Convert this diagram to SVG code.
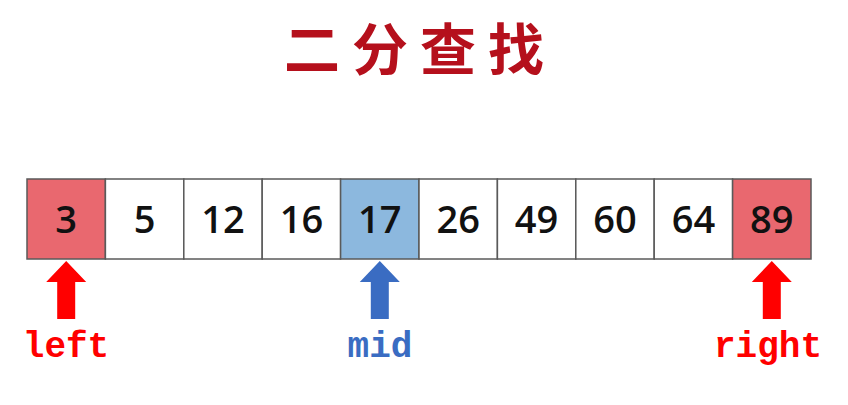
<svg xmlns="http://www.w3.org/2000/svg" width="848" height="405" viewBox="0 0 848 405">
<style>
.cell{stroke:#5a5a5a;stroke-width:1.5;fill:#ffffff}
.red{fill:#E9686F}
.blue{fill:#8CB8DE}
.num{font-family:"Open Sans","Liberation Sans",sans-serif;font-size:38px;font-weight:600;text-anchor:middle;fill:#111}
.lbl{font-family:"Liberation Mono","DejaVu Sans Mono",monospace;font-weight:bold;font-size:36px;text-anchor:middle}
</style>
<defs>
<path id="arr" d="M0,0 L20,21 L9,21 L9,58 L-9,58 L-9,21 L-20,21 Z"/>
</defs>
<rect width="848" height="405" fill="#ffffff"/>
<text x="420" y="70" font-family="'Noto Sans CJK SC',sans-serif" font-weight="bold" font-size="56" letter-spacing="12" text-anchor="middle" fill="#B5101C">二分查找</text>
<g id="array">
<g id="c0"><rect class="cell red" x="27" y="179" width="78.4" height="80"/><text class="num" x="66.2" y="233">3</text></g>
<g id="c1"><rect class="cell" x="105.4" y="179" width="78.4" height="80"/><text class="num" x="144.6" y="233">5</text></g>
<g id="c2"><rect class="cell" x="183.8" y="179" width="78.4" height="80"/><text class="num" x="223" y="233">12</text></g>
<g id="c3"><rect class="cell" x="262.2" y="179" width="78.4" height="80"/><text class="num" x="301.4" y="233">16</text></g>
<g id="c4"><rect class="cell blue" x="340.6" y="179" width="78.4" height="80"/><text class="num" x="379.8" y="233">17</text></g>
<g id="c5"><rect class="cell" x="419" y="179" width="78.4" height="80"/><text class="num" x="458.2" y="233">26</text></g>
<g id="c6"><rect class="cell" x="497.4" y="179" width="78.4" height="80"/><text class="num" x="536.6" y="233">49</text></g>
<g id="c7"><rect class="cell" x="575.8" y="179" width="78.4" height="80"/><text class="num" x="615" y="233">60</text></g>
<g id="c8"><rect class="cell" x="654.2" y="179" width="78.4" height="80"/><text class="num" x="693.4" y="233">64</text></g>
<g id="c9"><rect class="cell red" x="732.6" y="179" width="78.4" height="80"/><text class="num" x="771.8" y="233">89</text></g>
</g>
<g id="connectors">
<use href="#arr" x="66.2" y="261" fill="#FF0000"/>
<use href="#arr" x="379.8" y="261" fill="#3A6CC2"/>
<use href="#arr" x="771.8" y="261" fill="#FF0000"/>
</g>
<g id="lbl-left"><text class="lbl" x="66" y="357" fill="#FF0000">left</text></g>
<g id="lbl-mid"><text class="lbl" x="380" y="357" fill="#3A6CC2">mid</text></g>
<g id="lbl-right"><text class="lbl" x="768" y="357" fill="#FF0000">right</text></g>
</svg>
